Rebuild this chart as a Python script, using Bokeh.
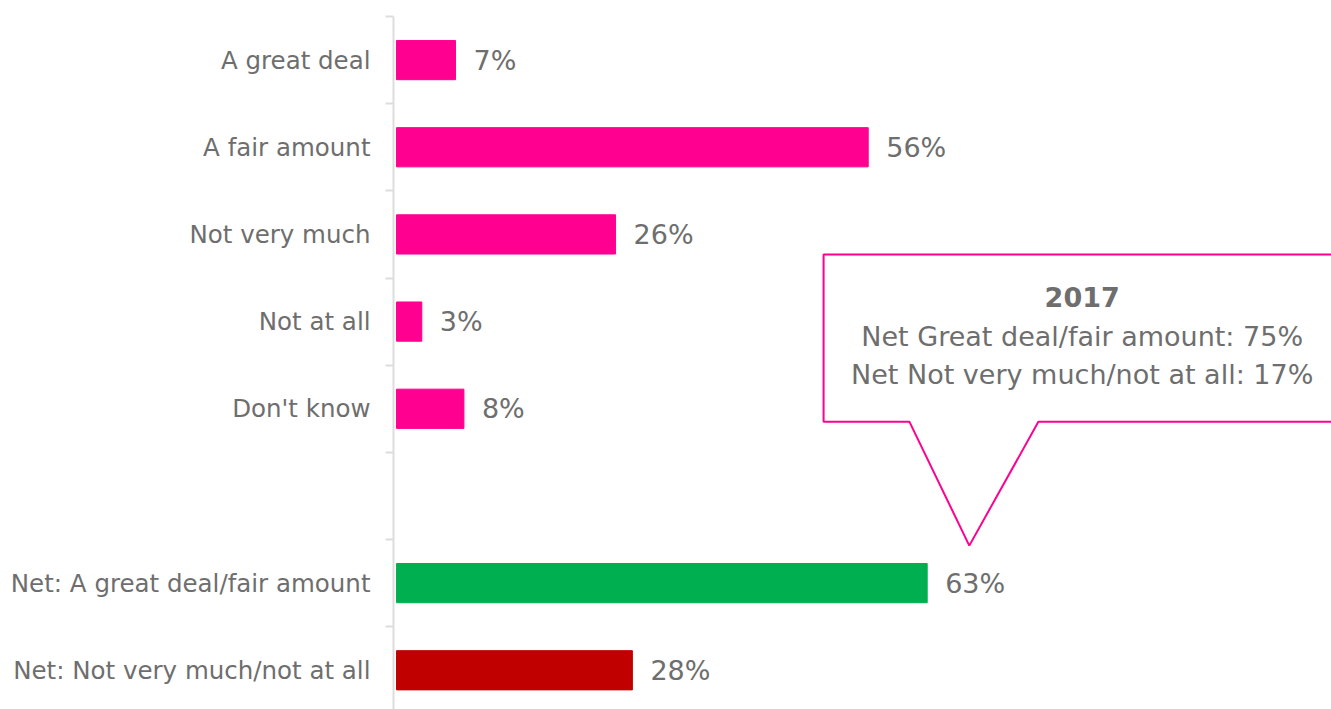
from bokeh.plotting import figure
from bokeh.models import Range1d, FixedTicker, ColumnDataSource
from bokeh.core.properties import value
from bokeh.embed import file_html
from bokeh.resources import INLINE

# ---- data ----
categories = ["A great deal", "A fair amount", "Not very much", "Not at all", "Don't know"]
values = [7, 56, 26, 3, 8]
net_categories = ["Net: A great deal/fair amount", "Net: Not very much/not at all"]
net_values = [63, 28]
net_colors = ["#00B050", "#C00000"]
callout_title = "2017"
callout_lines = ["Net Great deal/fair amount: 75%", "Net Not very much/not at all: 17%"]

PINK = "#FF0090"
GRAY = "#6E6E6E"
FONT = "DejaVu Sans"

# positions: one blank slot between the two groups
pos = list(range(len(categories)))
net_pos = [len(categories) + 1 + i for i in range(len(net_categories))]
all_pos = pos + net_pos
all_labels = categories + net_categories
all_values = values + net_values
all_colors = [PINK] * len(categories) + net_colors

src = ColumnDataSource(dict(
    y=all_pos, v=all_values, c=all_colors,
    t=[f"{x}%" for x in all_values],
))

p = figure(width=1331, height=709, output_backend="svg", toolbar_location=None,
           x_range=Range1d(-0.36, 111.0), y_range=Range1d(7.45, -0.5),
           min_border_left=393, min_border_top=16, min_border_bottom=0, min_border_right=0)
p.outline_line_color = None
p.xgrid.visible = False
p.ygrid.visible = False
p.xaxis.visible = False

p.hbar(y="y", right="v", left=0, height=0.45, color="c", source=src)
p.text(x="v", y="y", text="t", source=src, x_offset=18, text_align="left",
       text_baseline="middle", text_color=GRAY, text_font=value(FONT),
       text_font_size="27px")

ax = p.yaxis[0]
minor = [i - 0.5 for i in range(max(all_pos) + 2)]
ax.ticker = FixedTicker(ticks=all_pos, minor_ticks=minor)
ax.major_label_overrides = {k: lab for k, lab in zip(all_pos, all_labels)}
ax.major_tick_line_color = None
ax.major_tick_out = 0
ax.major_tick_in = 0
ax.major_label_standoff = 15
ax.major_label_text_font = FONT
ax.major_label_text_font_size = "24.5px"
ax.major_label_text_color = GRAY
ax.axis_line_color = "#DDDDDD"
ax.axis_line_width = 2
ax.minor_tick_line_color = "#DDDDDD"
ax.minor_tick_line_width = 2
ax.minor_tick_out = 8
ax.minor_tick_in = 0

# ---- callout (annotation) ----
bx0, bx1, by0, by1 = 50.7, 116.0, 2.23, 4.15
px0, px1, tipx, tipy = 60.9, 76.2, 68.0, 5.57
p.patch(x=[bx0, bx1, bx1, px1, tipx, px0, bx0],
        y=[by0, by0, by1, by1, tipy, by1, by1],
        fill_color="white", line_color=PINK, line_width=2)
cx = 81.4
p.text(x=[cx], y=[2.72], text=[callout_title], text_align="center", text_baseline="middle",
       text_color=GRAY, text_font=value(FONT), text_font_size="27px", text_font_style="bold")
p.text(x=[cx, cx], y=[3.17, 3.61], text=callout_lines, text_align="center",
       text_baseline="middle", text_color=GRAY, text_font=value(FONT), text_font_size="27px")

open("out.html", "w").write(file_html(p, INLINE))
